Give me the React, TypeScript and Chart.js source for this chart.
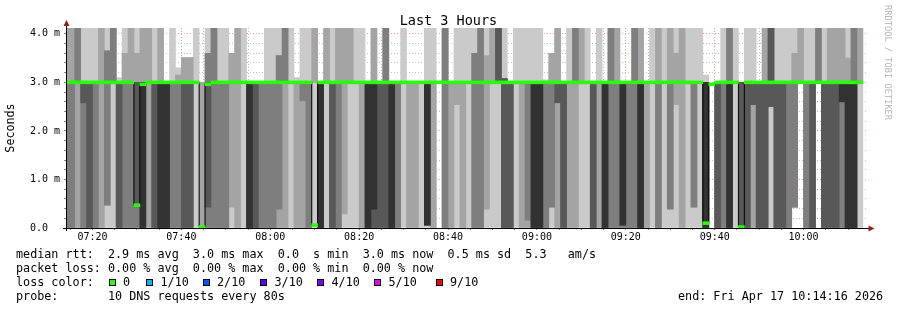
import React, { useEffect, useRef } from 'react';
import { Chart, registerables } from 'chart.js';

Chart.register(...registerables);

const FONT = '"DejaVu Sans Mono", monospace';

// ---------- texts ----------
const TITLE = 'Last 3 Hours';
const Y_TITLE = 'Seconds';
const WATERMARK = 'RRDTOOL / TOBI OETIKER';
const STATS_RTT = 'median rtt:  2.9 ms avg  3.0 ms max  0.0  s min  3.0 ms now  0.5 ms sd  5.3   am/s';
const STATS_LOSS = 'packet loss: 0.00 % avg  0.00 % max  0.00 % min  0.00 % now';
const LOSS_TITLE = 'loss color:';
const LOSS_LABELS = ['0', '1/10', '2/10', '3/10', '4/10', '5/10', '9/10'];
const LOSS_COLORS = ['#26ff00', '#00b8ff', '#0059ff', '#5e00ff', '#7e00ff', '#dd00ff', '#ff0000'];
const PROBE_TEXT = 'probe:       10 DNS requests every 80s';
const END_TEXT = 'end: Fri Apr 17 10:14:16 2026';

// ---------- time axis ----------
const RANGE_START = '07:14:16';
const RANGE_END = '10:14:16';
const FIRST_STEP_END = '07:14:40';
const STEP_SECONDS = 80;
const X_MAJOR_LABELS = ['07:20', '07:40', '08:00', '08:20', '08:40', '09:00', '09:20', '09:40', '10:00'];
const X_MINOR_MINUTES = 5;

// ---------- value axis (ms) ----------
const Y_MAX = 4.12;
const Y_MINOR_STEP = 0.2;
const Y_MAJOR_TICKS = [0, 1, 2, 3, 4];
const Y_TICK_LABELS = ['0.0  ', '1.0 m', '2.0 m', '3.0 m', '4.0 m'];

// smoke shades, outermost ping pair first
const SMOKE_SHADES = ['#cacaca', '#a4a4a4', '#7e7e7e', '#585858', '#323232'];

// ---------- 10 sorted pings (ms) per 80 s step ----------
// 07:13:20 – 07:58:40
const pingsA = [
  [0, 0, 0, 3, 3, 3, 3, 3, 4.3, 4.3],
  [0, 0, 0, 3, 3, 3, 3, 3, 4.3, 4.3],
  [0, 0, 3, 3, 3, 3, 3, 4.3, 4.3, 4.3],
  [0, 0, 0, 2.58, 3, 3, 3, 3, 3, 4.3],
  [0, 0, 0, 0, 3, 3, 3, 3, 3, 4.3],
  [0, 0, 0, 3, 3, 3, 3, 3, 3, 4.3],
  [0, 0, 3, 3, 3, 3, 3, 3, 4.3, 4.3],
  [0, 0.47, 0.47, 3, 3, 3, 3, 3.65, 3.65, 4.3],
  [0, 3, 3, 3, 3, 3, 3, 4.3, 4.3, 4.3],
  [0, 0, 0, 0, 3, 3, 3, 3, 3, 3.1],
  [0, 0, 0, 3, 3, 3, 3, 3, 3.6, 4.3],
  [0, 0, 0, 3, 3, 3, 3, 3, 4.3, 4.3],
  [0, 0, 0, 0.47, 3, 3, 3, 3, 3.6, 4.3],
  [0, 0, 0, 0, 0, 3, 3, 3, 4.3, 4.3],
  [0, 0, 3, 3, 3, 3, 3, 3, 4.3, 4.3],
  [0, 0, 0, 0, 3, 3, 3, 3, 3, 4.3],
  [0, 0, 0, 0, 0, 3, 3, 3, 4.3, 4.3],
  [0, 0, 0, 0, 0, 3, 3, 3, 3, 3],
  [0, 0, 0, 3, 3, 3, 3, 3, 3, 4.3],
  [0, 0, 0, 3, 3, 3, 3, 3, 3.15, 3.3],
  [0, 0, 0, 0, 3, 3, 3, 3, 3.51, 3.51],
  [0, 0, 0, 0, 3, 3, 3, 3, 3.51, 3.51],
  [0, 3, 3, 3, 3, 3, 3, 3, 3, 4.3],
  [0, 0, 3, 3, 3, 3, 3, 3, 3, 3],
  [0, 0, 0, 0.43, 3, 3, 3, 3.6, 3.6, 4.3],
  [0, 0, 0, 3, 3, 3, 3, 4.3, 4.3, 4.3],
  [0, 0, 0, 3, 3, 3, 3, 3, 3, 4.3],
  [0, 0, 0, 3, 3, 3, 3, 3, 3, 4.3],
  [0, 0.43, 3, 3, 3, 3, 3, 3, 3.6, 3.6],
  [0, 0, 3, 3, 3, 3, 3, 3, 4.3, 4.3],
  [0, 3, 3, 3, 3, 3, 3, 3, 3, 4.3],
  [0, 0, 0, 0, 0, 3, 3, 3, 3, 3],
  [0, 0, 0, 0, 3, 3, 3, 3, 3, 3],
  [0, 0, 0, 3, 3, 3, 3, 3, 3, 3],
];
// 07:58:40 – 08:43:20
const pingsB = [
  [0, 0, 0, 3, 3, 3, 3, 3, 3, 4.3],
  [0, 0, 0, 3, 3, 3, 3, 3, 3, 4.3],
  [0, 0, 0.39, 3, 3, 3, 3, 3.55, 3.55, 4.3],
  [0, 0, 3, 3, 3, 3, 3, 4.3, 4.3, 4.3],
  [0, 3, 3, 3, 3, 3, 3, 3, 3, 4.3],
  [0, 0, 3, 3, 3, 3, 3, 3, 3, 3.1],
  [0, 0, 2.62, 3, 3, 3, 3, 3, 3, 4.3],
  [0, 0, 0, 3, 3, 3, 3, 3, 3, 4.3],
  [0, 3, 3, 3, 3, 3, 3, 3, 4.3, 4.3],
  [0, 0, 0, 0, 0, 3, 3, 3, 3, 3],
  [0, 3, 3, 3, 3, 3, 3, 3, 4.3, 4.3],
  [0, 0, 0, 0, 3, 3, 3, 3, 3, 4.3],
  [0, 0, 0, 3, 3, 3, 3, 3, 4.3, 4.3],
  [0, 0.29, 3, 3, 3, 3, 3, 3, 4.3, 4.3],
  [0, 3, 3, 3, 3, 3, 3, 3, 4.3, 4.3],
  [0, 3, 3, 3, 3, 3, 3, 3, 3, 4.3],
  [0, 0, 3, 3, 3, 3, 3, 3, 3, 4.3],
  [0, 0, 0, 0, 0, 3, 3, 3, 3, 3],
  [0, 0, 0, 0, 0.39, 3, 3, 3, 4.3, 4.3],
  [0, 0, 0, 0, 3, 3, 3, 3, 3, 3],
  [0, 0, 0, 0, 3, 3, 3, 4.3, 4.3, 4.3],
  [0, 0, 0, 0, 0, 3, 3, 3, 3, 3],
  [0, 0, 0, 3, 3, 3, 3, 3, 3, 3],
  [0, 3, 3, 3, 3, 3, 3, 3, 3, 4.3],
  [0, 0, 3, 3, 3, 3, 3, 3, 3, 3],
  [0, 0, 3, 3, 3, 3, 3, 3, 3, 3],
  [0, 3, 3, 3, 3, 3, 3, 3, 3, 3],
  [0, 0.06, 0.06, 0.06, 0.06, 3, 3, 3, 3, 4.3],
  [0, 0, 3, 3, 3, 3, 3, 3, 3, 4.3],
  [3, 3, 3, 3, 3, 3, 3, 3, 3, 3],
  [0, 0, 0, 3, 3, 3, 3, 4.3, 4.3, 4.3],
  [0, 0, 3, 3, 3, 3, 3, 3, 3, 3],
  [0, 2.54, 3, 3, 3, 3, 3, 3, 3, 4.3],
  [0, 0, 3, 3, 3, 3, 3, 3, 3, 4.3],
];
// 08:43:20 – 09:27:20
const pingsC = [
  [0, 3, 3, 3, 3, 3, 3, 3, 3, 4.3],
  [0, 0, 0, 3, 3, 3, 3, 3.6, 3.6, 4.3],
  [0, 0, 0, 3, 3, 3, 3, 4.3, 4.3, 4.3],
  [0, 0.39, 3, 3, 3, 3, 3, 3, 3.55, 4.3],
  [0, 3, 3, 3, 3, 3, 3, 3, 4.3, 4.3],
  [0, 3, 3, 3, 3, 3, 4.3, 4.3, 4.3, 4.3],
  [0, 0, 0, 0, 3, 3, 3.08, 3.08, 3.08, 4.3],
  [0, 0, 0, 0, 3, 3, 3, 3, 3, 3],
  [0, 3, 3, 3, 3, 3, 3, 3, 3, 4.3],
  [0, 0, 3, 3, 3, 3, 3, 3, 3, 4.3],
  [0, 0, 0.16, 3, 3, 3, 3, 3, 3, 4.3],
  [0, 0, 0, 0, 0, 3, 3, 3, 3, 4.3],
  [0, 0, 0, 0, 0, 3, 3, 3, 3, 4.3],
  [0, 0, 0, 3, 3, 3, 3, 3, 3, 3.05],
  [0, 0.43, 0.43, 3, 3, 3, 3, 3, 3.6, 3.6],
  [0, 0, 2.58, 2.58, 3, 3, 3, 3, 4.3, 4.3],
  [0, 0, 0, 0, 3, 3, 3, 3, 3, 3],
  [0, 0, 3, 3, 3, 3, 3, 3, 3, 4.3],
  [0, 0, 3, 3, 3, 3, 3, 4.3, 4.3, 4.3],
  [0, 3, 3, 3, 3, 3, 3, 3, 4.3, 4.3],
  [0, 3, 3, 3, 3, 3, 3, 3, 3, 4.3],
  [0, 0, 0, 0, 3, 3, 3, 3, 3, 3],
  [0, 0, 3, 3, 3, 3, 3, 3, 3, 4.3],
  [0, 0, 0, 0, 0, 3, 3, 3, 3, 3],
  [0, 0, 0, 3, 3, 3, 3, 4.3, 4.3, 4.3],
  [0, 0, 0, 3, 3, 3, 3, 3, 4.3, 4.3],
  [0, 0, 0, 0.06, 0.06, 3, 3, 3, 3, 3],
  [0, 0, 0, 3, 3, 3, 3, 3, 3, 3],
  [0, 0, 0, 3, 3, 3, 3, 4.3, 4.3, 4.3],
  [0, 0, 0, 0, 0, 3, 3, 3, 4.3, 4.3],
  [0, 0, 3, 3, 3, 3, 3, 3, 3, 3],
  [0, 3, 3, 3, 3, 3, 3, 3, 3, 4.3],
  [0, 0, 0, 3, 3, 3, 3, 3, 4.3, 4.3],
];
// 09:27:20 – 10:13:20
const pingsD = [
  [0, 3, 3, 3, 3, 3, 3, 3, 3, 4.3],
  [0, 0.39, 0.39, 3, 3, 3, 3, 3, 4.3, 4.3],
  [0, 2.54, 3, 3, 3, 3, 3, 3, 3.6, 4.3],
  [0, 0, 3, 3, 3, 3, 3, 3, 4.3, 4.3],
  [0, 3, 3, 3, 3, 3, 3, 3, 3, 4.3],
  [0, 0.43, 0.43, 3, 3, 3, 3, 3, 3, 4.3],
  [0, 3, 3, 3, 3, 3, 3, 3, 3, 4.3],
  [0, 0, 0, 0, 0, 3, 3, 3, 3, 3.15],
  [3, 3, 3, 3, 3, 3, 3, 3, 3, 3],
  [0, 0, 0, 0, 3, 3, 3, 3, 3, 3],
  [0, 0, 0, 3, 3, 3, 3, 3, 3, 4.3],
  [0, 0, 0, 0, 0, 3, 3, 4.3, 4.3, 4.3],
  [0, 3, 3, 3, 3, 3, 3, 3, 3, 4.3],
  [0, 0, 0, 0, 3, 3, 3, 3, 3, 3],
  [0, 0, 0, 0, 3, 3, 3, 3, 3, 4.3],
  [0, 0, 2.54, 2.54, 3, 3, 3, 3, 3, 4.3],
  [0, 0, 0, 0, 3, 3, 3, 3, 3, 3],
  [0, 0, 0, 0, 3, 3, 3, 3, 4.3, 4.3],
  [0, 2.5, 2.5, 2.5, 3, 3, 4.3, 4.3, 4.3, 4.3],
  [0, 0, 0, 0, 3, 3, 3, 3, 3, 4.3],
  [0, 0, 0, 0, 3, 3, 3, 3, 3, 4.3],
  [0, 0, 0, 3, 3, 3, 3, 3, 3, 4.3],
  [0.43, 0.43, 0.43, 3, 3, 3, 3, 3, 3.6, 4.3],
  [3, 3, 3, 3, 3, 3, 3, 3, 4.3, 4.3],
  [0, 0, 0, 3, 3, 3, 3, 3, 3, 4.3],
  [0, 0, 0, 0, 3, 3, 3, 3, 3, 4.3],
  [3, 3, 3, 3, 3, 3, 3, 4.3, 4.3, 4.3],
  [0, 0, 0, 0, 3, 3, 3, 3, 3, 4.3],
  [0, 0, 0, 0, 3, 3, 3, 3, 4.3, 4.3],
  [0, 0, 0, 0, 3, 3, 3, 3, 4.3, 4.3],
  [0, 0, 0, 2.6, 2.6, 3, 3, 3, 4.3, 4.3],
  [0, 0, 0, 0, 0, 3, 3, 3, 3.5, 4.3],
  [0, 0, 0, 0, 0, 3, 3, 4.3, 4.3, 4.3],
  [0, 3, 3, 3, 3, 3, 3, 3, 4.3, 4.3],
];

// median rtt (ms) per step
const medianA = [3, 3, 3, 3, 3, 3, 3, 3, 3, 3, 3, 3, 0.47, 2.96, 3, 3, 3, 3, 3, 3, 3, 3, 3, 0.02, 2.96, 3, 3, 3, 3, 3, 3, 3, 3, 3];
const medianB = [3, 3, 3, 3, 3, 3, 3, 3, 0.06, 3, 3, 3, 3, 3, 3, 3, 3, 3, 3, 3, 3, 3, 3, 3, 3, 3, 3, 3, 3, 3, 3, 3, 3, 3];
const medianC = [3, 3, 3, 3, 3, 3, 3, 3, 3, 3, 3, 3, 3, 3, 3, 3, 3, 3, 3, 3, 3, 3, 3, 3, 3, 3, 3, 3, 3, 3, 3, 3, 3];
const medianD = [3, 3, 3, 3, 3, 3, 3, 0.1, 2.96, 3, 3, 3, 3, 0.02, 3, 3, 3, 3, 3, 3, 3, 3, 3, 3, 3, 3, 3, 3, 3, 3, 3, 3, 3, 3];

// ---------- helpers ----------
const toSec = (s: string) => {
  const [h, m, sec] = s.split(':').map(Number);
  return h * 3600 + m * 60 + (sec || 0);
};
const pad2 = (n: number) => String(n).padStart(2, '0');
const hhmm = (v: number) => `${pad2(Math.floor(v / 3600))}:${pad2(Math.floor((v % 3600) / 60))}`;

const PINGS = [...pingsA, ...pingsB, ...pingsC, ...pingsD];
const MEDIAN = [...medianA, ...medianB, ...medianC, ...medianD];
const X_MIN = toSec(RANGE_START);
const X_MAX = toSec(RANGE_END);
const firstEnd = toSec(FIRST_STEP_END);
const CENTERS = PINGS.map((_, i) => firstEnd + i * STEP_SECONDS - STEP_SECONDS / 2);
const MAJOR_X = X_MAJOR_LABELS.map(toSec);
const minorStep = X_MINOR_MINUTES * 60;
const X_TICKS: number[] = [];
for (let t = Math.ceil(X_MIN / minorStep) * minorStep; t <= X_MAX; t += minorStep) X_TICKS.push(t);
const Y_TICKS: number[] = [];
for (let i = 0; i * Y_MINOR_STEP <= 4.0001; i++) Y_TICKS.push(Math.round(i * Y_MINOR_STEP * 100) / 100);

const MAJOR_GRID = 'rgba(255,0,0,0.42)';
const MINOR_GRID = 'rgba(150,150,150,0.6)';
const MAJOR_TICK = 'rgba(200,0,0,0.6)';
const MINOR_TICK = 'rgba(90,90,90,0.7)';
const MEDIAN_HALF = 0.03;

const axisPlugin = {
  id: 'rrdAxes',
  afterDraw(chart: any) {
    const { ctx, chartArea: a } = chart;
    ctx.save();
    ctx.strokeStyle = '#000';
    ctx.lineWidth = 1;
    ctx.beginPath();
    ctx.moveTo(a.left - 4, a.bottom + 0.5);
    ctx.lineTo(a.right + 3, a.bottom + 0.5);
    ctx.moveTo(a.left - 0.5, a.bottom + 3);
    ctx.lineTo(a.left - 0.5, a.top - 4);
    ctx.stroke();
    ctx.fillStyle = '#9b1c1c';
    ctx.beginPath();
    ctx.moveTo(a.left - 0.5, a.top - 8);
    ctx.lineTo(a.left - 3.5, a.top - 2);
    ctx.lineTo(a.left + 2.5, a.top - 2);
    ctx.closePath();
    ctx.fill();
    ctx.beginPath();
    ctx.moveTo(a.right + 7.5, a.bottom + 0.5);
    ctx.lineTo(a.right + 1.5, a.bottom - 2.5);
    ctx.lineTo(a.right + 1.5, a.bottom + 3.5);
    ctx.closePath();
    ctx.fill();
    ctx.restore();
  },
};

const LABEL_X = [123, 160.5, 217, 274.5, 331.5, 388.5, 450];

export default function App() {
  const ref = useRef<HTMLCanvasElement | null>(null);

  useEffect(() => {
    if (!ref.current) return;
    const bands = SMOKE_SHADES.map((shade, i) => ({
      type: 'bar' as const,
      label: `smoke ${i + 1}`,
      data: PINGS.map((p, j) => ({
        x: CENTERS[j],
        y: p[i] === p[p.length - 1 - i] ? null : [p[i], p[p.length - 1 - i]],
      })),
      backgroundColor: shade,
      borderWidth: 0,
      grouped: false,
      barPercentage: 1,
      categoryPercentage: 1,
      order: 10 - i,
    }));
    const chart = new Chart(ref.current, {
      type: 'bar',
      data: {
        datasets: [
          ...bands,
          {
            type: 'line',
            label: 'median',
            data: MEDIAN.map((m, j) => ({ x: CENTERS[j], y: m })),
            borderColor: '#000',
            borderWidth: 1,
            pointRadius: 0,
            stepped: 'middle',
            order: 1,
          },
          {
            type: 'bar',
            label: 'median loss color',
            data: MEDIAN.map((m, j) => ({ x: CENTERS[j], y: [m - MEDIAN_HALF, m + MEDIAN_HALF] })),
            backgroundColor: LOSS_COLORS[0],
            borderWidth: 0,
            grouped: false,
            barPercentage: 1,
            categoryPercentage: 1,
            order: 0,
          },
        ] as any,
      },
      options: {
        responsive: false,
        animation: false,
        events: [],
        layout: { padding: { left: 0, right: 30, top: 28, bottom: 0 } },
        plugins: {
          legend: { display: false },
          title: { display: false },
          tooltip: { enabled: false },
        },
        scales: {
          x: {
            type: 'linear',
            min: X_MIN,
            max: X_MAX,
            bounds: 'data',
            offset: false,
            z: 1,
            grid: {
              offset: false,
              drawTicks: true,
              tickLength: 2,
              lineWidth: 1,
              color: (c: any) => (c.tick && MAJOR_X.includes(c.tick.value) ? MAJOR_GRID : MINOR_GRID),
              tickColor: (c: any) => (c.tick && MAJOR_X.includes(c.tick.value) ? MAJOR_TICK : MINOR_TICK),
            },
            border: { display: false, dash: [1, 2] },
            ticks: {
              autoSkip: false,
              maxRotation: 0,
              padding: 1,
              color: '#000',
              font: { family: FONT, size: 10 },
              callback: (v: any) => (MAJOR_X.includes(Number(v)) ? hhmm(Number(v)) : ''),
            },
            afterBuildTicks: (s: any) => {
              s.ticks = X_TICKS.map((value) => ({ value }));
            },
            afterFit: (s: any) => {
              s.height = 82;
            },
          },
          y: {
            type: 'linear',
            min: 0,
            max: Y_MAX,
            bounds: 'data',
            z: 1,
            grid: {
              drawTicks: true,
              tickLength: 3,
              lineWidth: 1,
              color: (c: any) => {
                const v = c.tick ? c.tick.value : -1;
                if (v === 0) return 'rgba(0,0,0,0)';
                return Y_MAJOR_TICKS.includes(v) ? MAJOR_GRID : MINOR_GRID;
              },
              tickColor: (c: any) => {
                const v = c.tick ? c.tick.value : -1;
                if (v === 0) return 'rgba(0,0,0,0)';
                return Y_MAJOR_TICKS.includes(v) ? MAJOR_TICK : MINOR_TICK;
              },
            },
            border: { display: false, dash: [1, 2] },
            ticks: {
              autoSkip: false,
              padding: 4,
              color: '#000',
              font: { family: FONT, size: 10 },
              callback: (v: any) => {
                const k = Y_MAJOR_TICKS.indexOf(Number(v));
                return k >= 0 ? Y_TICK_LABELS[k] : '';
              },
            },
            afterBuildTicks: (s: any) => {
              s.ticks = Y_TICKS.map((value) => ({ value }));
            },
            afterFit: (s: any) => {
              s.width = 67;
            },
            title: {
              display: true,
              text: Y_TITLE,
              color: '#000',
              font: { family: FONT, size: 11.7 },
              padding: { top: 4, bottom: 0 },
            },
          },
        },
      } as any,
      plugins: [axisPlugin],
    });
    return () => chart.destroy();
  }, []);

  const text: React.CSSProperties = {
    position: 'absolute',
    left: 16,
    fontFamily: FONT,
    fontSize: 11.75,
    lineHeight: '14px',
    whiteSpace: 'pre',
    color: '#000',
  };

  return (
    <div style={{ position: 'absolute', left: 0, top: 0, width: 897, height: 310, background: '#fff', overflow: 'hidden' }}>
      <canvas ref={ref} width={897} height={310} style={{ position: 'absolute', left: 0, top: 0 }} />
      <div
        style={{
          position: 'absolute', left: 0, top: 12, width: 897, textAlign: 'center',
          fontFamily: FONT, fontSize: 13.5, lineHeight: '16px', color: '#000', whiteSpace: 'pre',
        }}
      >
        {TITLE}
      </div>
      <div
        style={{
          position: 'absolute', left: 893, top: 5, transform: 'rotate(90deg)', transformOrigin: 'left top',
          fontFamily: FONT, fontSize: 8.7, lineHeight: '10px', color: '#b4b4b4', whiteSpace: 'pre',
        }}
      >
        {WATERMARK}
      </div>
      <div style={{ ...text, top: 247 }}>{STATS_RTT}</div>
      <div style={{ ...text, top: 261 }}>{STATS_LOSS}</div>
      <div style={{ ...text, top: 275 }}>{LOSS_TITLE}</div>
      {LOSS_LABELS.map((lab, i) => (
        <React.Fragment key={lab}>
          <div
            style={{
              position: 'absolute', left: Math.round(LABEL_X[i] - 14.5), top: 279, width: 7, height: 7,
              boxSizing: 'border-box', border: '1px solid #000', background: LOSS_COLORS[i],
            }}
          />
          <div style={{ ...text, left: LABEL_X[i], top: 275 }}>{lab}</div>
        </React.Fragment>
      ))}
      <div style={{ ...text, top: 289 }}>{PROBE_TEXT}</div>
      <div style={{ ...text, left: 678, top: 289 }}>{END_TEXT}</div>
    </div>
  );
}
